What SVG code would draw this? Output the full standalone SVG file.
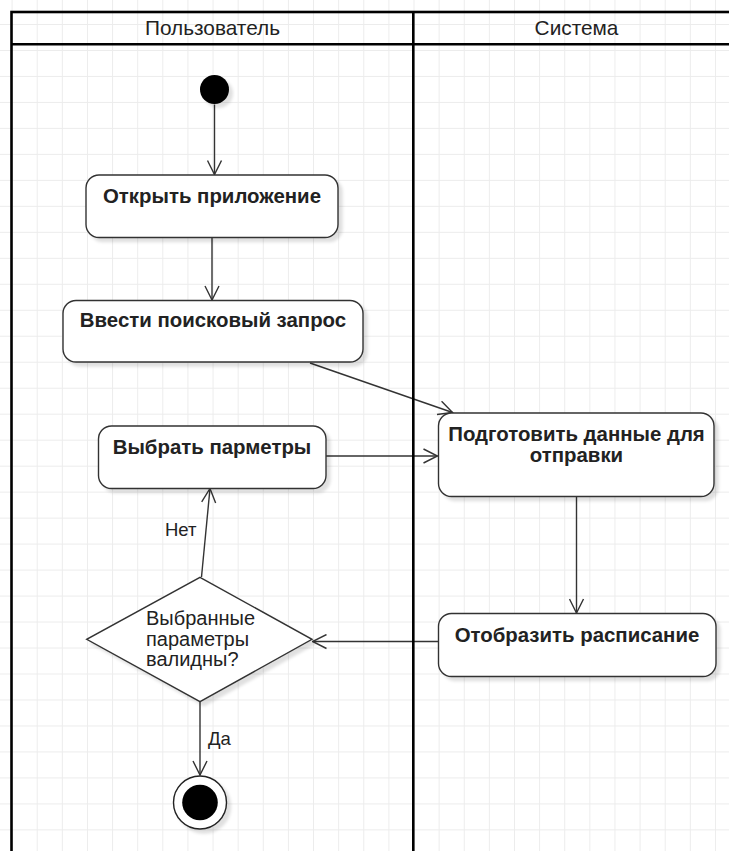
<svg xmlns="http://www.w3.org/2000/svg" width="729" height="851" viewBox="0 0 729 851">
  <style>
    .lane { fill: none; stroke: #000; stroke-width: 2.6; }
    .hdr { font-family: "Liberation Sans", Arial, sans-serif; font-size: 20.8px; fill: #222; text-anchor: middle; }
    .box { fill: #fff; stroke: #333; stroke-width: 1.4; filter: url(#shadow); }
    .btxt { font-family: "Liberation Sans", Arial, sans-serif; font-size: 20.4px; font-weight: bold; fill: #222; text-anchor: middle; }
    .dtxt { font-family: "Liberation Sans", Arial, sans-serif; font-size: 20px; fill: #222; }
    .lbl { font-family: "Liberation Sans", Arial, sans-serif; font-size: 18.5px; fill: #222; }
    .edge { fill: none; stroke: #333; stroke-width: 1.4; marker-end: url(#arrow); }
  </style>
  <defs>
    <pattern id="grid" x="11.6" y="24" width="25.12" height="25.98" patternUnits="userSpaceOnUse">
      <path d="M0.5,0 V25.98 M0,0.5 H25.12" fill="none" stroke="#ececec" stroke-width="1"/>
    </pattern>
    <filter id="shadow" x="-10%" y="-10%" width="130%" height="140%">
      <feDropShadow dx="4" dy="4" stdDeviation="1.8" flood-color="#000" flood-opacity="0.12"/>
    </filter>
    <marker id="arrow" viewBox="0 0 16 16" refX="15" refY="8" markerWidth="16" markerHeight="16" markerUnits="userSpaceOnUse" orient="auto">
      <path d="M1,1 L15,8 L1,15" fill="none" stroke="#333" stroke-width="1.4"/>
    </marker>
  </defs>

  <rect x="0" y="0" width="729" height="851" fill="#fff"/>
  <rect x="0" y="0" width="729" height="851" fill="url(#grid)"/>

  <g id="connectors">
    <path class="edge" d="M214.5,104.5 L214.5,174.5"/>
    <path class="edge" d="M212,237.5 L212,300"/>
    <path class="edge" d="M310,363 L452.5,412.5"/>
    <path class="edge" d="M326,456 L437.5,456"/>
    <path class="edge" d="M576.5,497 L576.5,613"/>
    <path class="edge" d="M438,641.5 L312.5,641.5"/>
    <path class="edge" d="M201.5,577 L210,488.5"/>
    <path class="edge" d="M200,702 L200,775"/>
    <text class="lbl" x="165" y="536">Нет</text>
    <text class="lbl" x="208" y="745">Да</text>
  </g>

  <g id="lanes">
    <rect class="lane" x="11.5" y="12" width="740" height="900"/>
    <line class="lane" x1="11.5" y1="44.3" x2="751" y2="44.3"/>
    <line class="lane" x1="413.3" y1="12" x2="413.3" y2="912"/>
    <text class="hdr" x="212.5" y="34.5">Пользователь</text>
    <text class="hdr" x="576.5" y="34.5">Система</text>
  </g>

  <g id="start">
    <circle cx="214.5" cy="89.5" r="14.5" fill="#000" filter="url(#shadow)"/>
  </g>

  <g id="open-app">
    <rect class="box" x="86" y="175" width="252" height="62.5" rx="13"/>
    <text class="btxt" x="212" y="202.5">Открыть приложение</text>
  </g>

  <g id="enter-query">
    <rect class="box" x="63" y="300.5" width="300" height="61.5" rx="13"/>
    <text class="btxt" x="213" y="327">Ввести поисковый запрос</text>
  </g>

  <g id="choose-params">
    <rect class="box" x="98.5" y="426" width="227.5" height="62.5" rx="13"/>
    <text class="btxt" x="212" y="453.5">Выбрать парметры</text>
  </g>

  <g id="prepare-data">
    <rect class="box" x="438.5" y="413" width="275.5" height="83.5" rx="13"/>
    <text class="btxt" x="576.5" y="441">Подготовить данные для</text>
    <text class="btxt" x="576.5" y="461.5">отправки</text>
  </g>

  <g id="show-schedule">
    <rect class="box" x="438.5" y="613.5" width="277.5" height="63" rx="13"/>
    <text class="btxt" x="577" y="642">Отобразить расписание</text>
  </g>

  <g id="decision">
    <polygon class="box" points="200,577.3 312,639.3 200,701.7 86.7,639.3"/>
    <text class="dtxt" x="146" y="625">Выбранные</text>
    <text class="dtxt" x="146" y="646">параметры</text>
    <text class="dtxt" x="146" y="666">валидны?</text>
  </g>

  <g id="end">
    <circle cx="200" cy="802.5" r="26.5" fill="#fff" stroke="#222" stroke-width="1.4" filter="url(#shadow)"/>
    <circle cx="200" cy="802.5" r="17.8" fill="#000"/>
  </g>
</svg>
